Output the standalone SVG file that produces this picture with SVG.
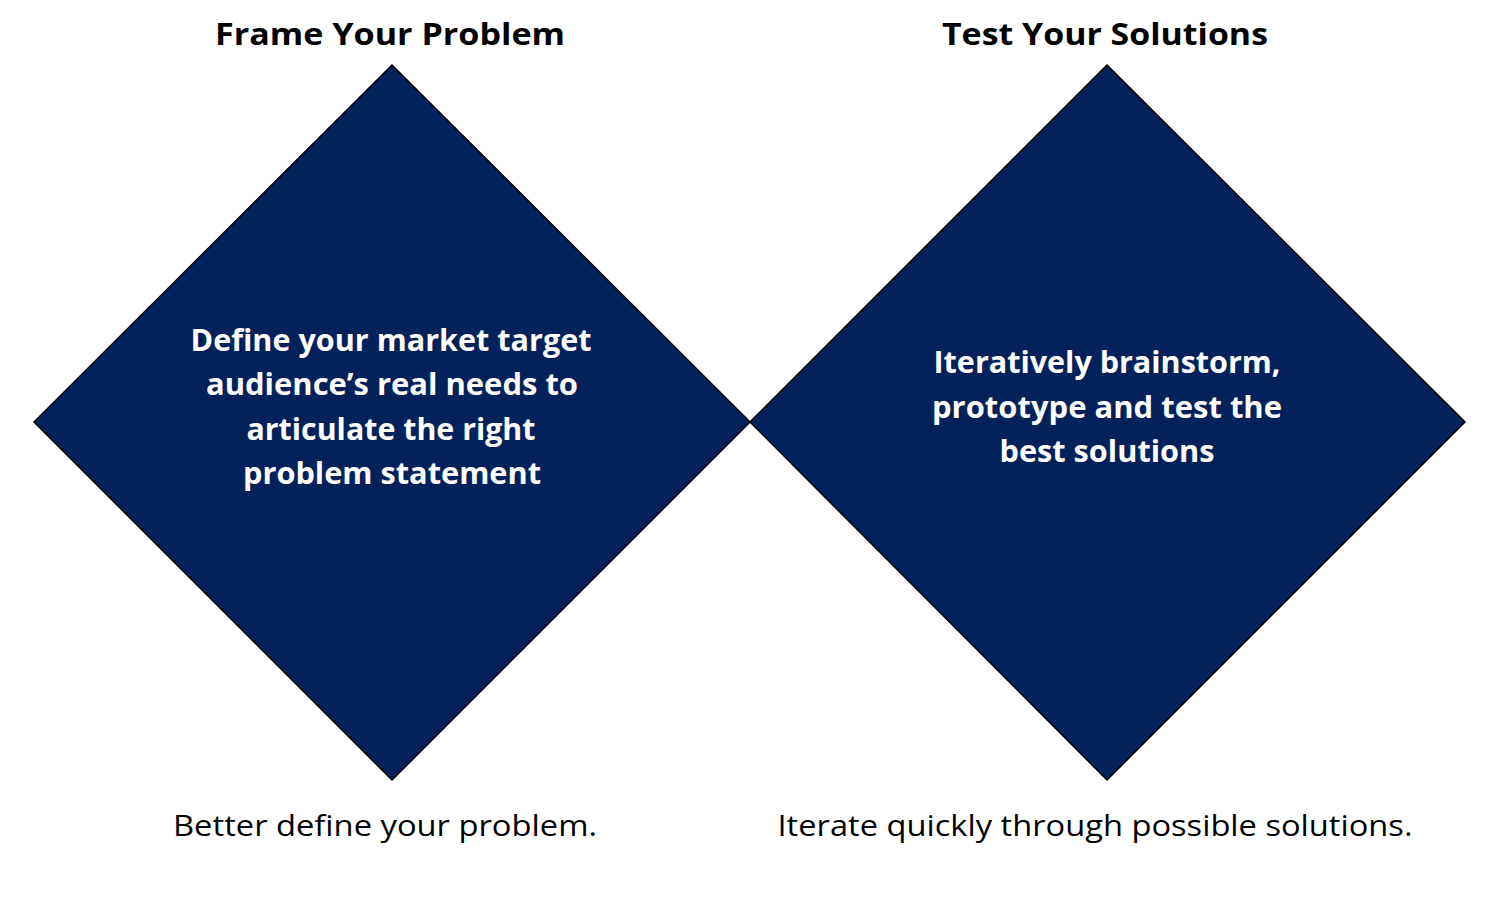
<svg xmlns="http://www.w3.org/2000/svg" width="1498" height="898" viewBox="0 0 1498 898">
<style>
.d{fill:#03215B;stroke:#000;stroke-width:1.5}
.t{font-family:"Open Sans","Liberation Sans",sans-serif;font-weight:bold;font-size:31px;text-anchor:middle;fill:#000}
.w{font-family:"Open Sans","Liberation Sans",sans-serif;font-weight:bold;font-size:30px;text-anchor:middle;fill:#fff}
.c{font-family:"Open Sans","Liberation Sans",sans-serif;font-size:30px;text-anchor:middle;fill:#000}
</style>
<rect width="1498" height="898" fill="#fff"/>
<g id="frame">
<polygon class="d" points="392,65 750,422 392,780 34,422"/>
<text class="t" x="390" y="45" textLength="350" lengthAdjust="spacingAndGlyphs">Frame Your Problem</text>
<text class="w" x="391" y="351" textLength="401" lengthAdjust="spacingAndGlyphs">Define your market target</text>
<text class="w" x="392" y="395" textLength="372" lengthAdjust="spacingAndGlyphs">audience’s real needs to</text>
<text class="w" x="391" y="440" textLength="289" lengthAdjust="spacingAndGlyphs">articulate the right</text>
<text class="w" x="392" y="484" textLength="298" lengthAdjust="spacingAndGlyphs">problem statement</text>
<text class="c" x="385" y="836" textLength="424" lengthAdjust="spacingAndGlyphs">Better define your problem.</text>
</g>
<g id="test">
<polygon class="d" points="1107,65 1465,422 1107,780 750,422"/>
<text class="t" x="1105" y="45" textLength="326" lengthAdjust="spacingAndGlyphs">Test Your Solutions</text>
<text class="w" x="1107" y="373" textLength="347" lengthAdjust="spacingAndGlyphs">Iteratively brainstorm,</text>
<text class="w" x="1107" y="418" textLength="350" lengthAdjust="spacingAndGlyphs">prototype and test the</text>
<text class="w" x="1107" y="462" textLength="215" lengthAdjust="spacingAndGlyphs">best solutions</text>
<text class="c" x="1095" y="836" textLength="635" lengthAdjust="spacingAndGlyphs">Iterate quickly through possible solutions.</text>
</g>
<g id="connectors"></g>
</svg>
